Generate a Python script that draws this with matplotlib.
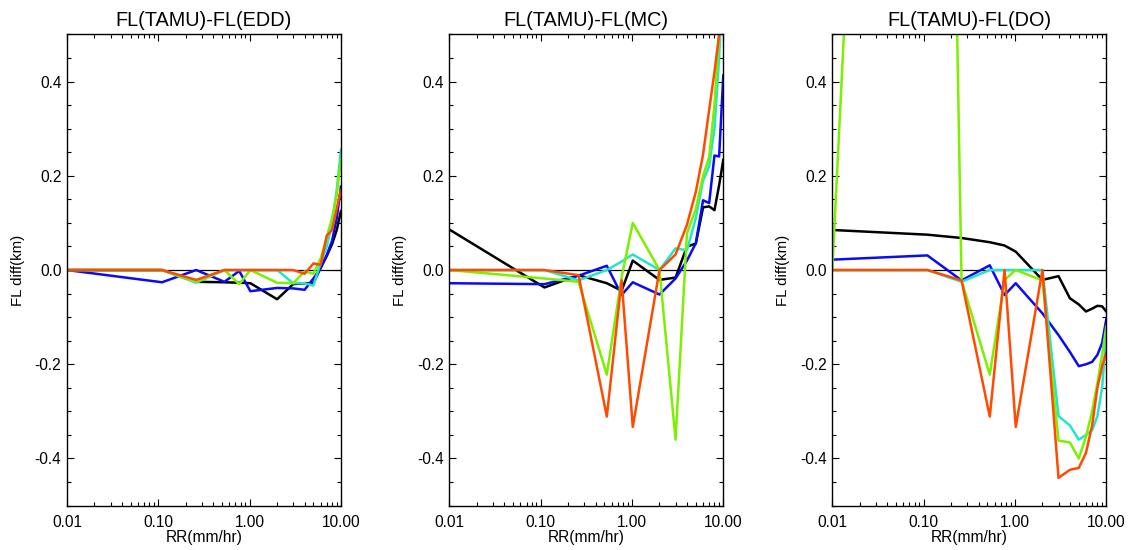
import numpy as np
import matplotlib
matplotlib.use("Agg")
import matplotlib.pyplot as plt
from matplotlib.ticker import MultipleLocator, FixedLocator, FuncFormatter, NullFormatter

plt.rcParams['font.family'] = ['Liberation Sans', 'DejaVu Sans']
plt.rcParams['axes.unicode_minus'] = False

# rain rate bins (mm/hr)
rr = [0.01, 0.11, 0.26, 0.53, 0.77, 1.02, 2.0, 3.0, 4.0, 5.0, 6.0, 7.0, 8.0, 9.0, 10.0]

titles = ['FL(TAMU)-FL(EDD)', 'FL(TAMU)-FL(MC)', 'FL(TAMU)-FL(DO)']

# FL(TAMU)-FL(EDD)
edd_black = [0, 0, -0.025, -0.026, -0.027, -0.028, -0.062, -0.03, -0.028, -0.028, 0.005, 0.03, 0.055, 0.085, 0.125]
edd_blue = [0, -0.026, 0.0, -0.025, -0.002, -0.045, -0.038, -0.039, -0.042, -0.018, 0.004, 0.032, 0.062, 0.11, 0.177]
edd_cyan = [0, 0, -0.027, 0.0, 0.0, 0.0, 0.0, -0.028, -0.028, -0.033, 0.015, 0.05, 0.1, 0.17, 0.255]
edd_green = [0, 0, -0.025, 0.0, -0.03, 0.0, -0.027, -0.028, -0.003, -0.008, 0.025, 0.07, 0.11, 0.16, 0.235]
edd_orange = [0, 0, -0.021, 0.0, 0.0, 0.0, 0.0, 0.0, -0.008, 0.014, 0.011, 0.073, 0.085, 0.13, 0.17]

# FL(TAMU)-FL(MC)
mc_black = [0.086, -0.037, -0.011, -0.028, -0.044, 0.02, -0.021, -0.016, 0.05, 0.056, 0.133, 0.135, 0.127, 0.18, 0.234]
mc_blue = [-0.028, -0.03, -0.012, 0.009, -0.053, -0.026, -0.052, -0.018, 0.02, 0.057, 0.148, 0.142, 0.243, 0.241, 0.413]
mc_cyan = [0, 0, -0.022, 0.0, 0.018, 0.033, 0.0, 0.046, 0.042, 0.11, 0.19, 0.22, 0.3, 0.45, 0.65]
mc_green = [0, -0.018, -0.025, -0.222, -0.015, 0.1, 0.0, -0.36, 0.078, 0.13, 0.2, 0.24, 0.35, 0.5, 0.7]
mc_orange = [0, 0, -0.011, -0.311, -0.022, -0.333, 0.0, 0.033, 0.096, 0.166, 0.245, 0.34, 0.42, 0.5, 0.75]

# FL(TAMU)-FL(DO)
do_black = [0.085, 0.075, 0.068, 0.059, 0.052, 0.039, -0.021, -0.013, -0.06, -0.073, -0.088, -0.082, -0.076, -0.077, -0.088]
do_blue = [0.022, 0.031, -0.022, 0.01, -0.053, -0.028, -0.092, -0.138, -0.174, -0.204, -0.2, -0.195, -0.18, -0.155, -0.105]
do_cyan = [0, 0, -0.025, 0, 0, 0, 0, -0.31, -0.33, -0.36, -0.35, -0.34, -0.31, -0.25, -0.14]
do_green = [0, 4.1, -0.022, -0.222, -0.021, 0.0, -0.022, -0.362, -0.366, -0.4, -0.354, -0.3, -0.24, -0.18, -0.12]
do_orange = [0, 0, -0.022, -0.311, 0.0, -0.333, 0.0, -0.441, -0.424, -0.42, -0.388, -0.33, -0.25, -0.205, -0.175]

panels = [
    [edd_black, edd_blue, edd_cyan, edd_green, edd_orange],
    [mc_black, mc_blue, mc_cyan, mc_green, mc_orange],
    [do_black, do_blue, do_cyan, do_green, do_orange],
]
colors = ['#000000', '#0a0af5', '#22e6cc', '#7cf000', '#ff4a00']

fig = plt.figure(figsize=(11.33, 5.5), dpi=100)
lefts = [0.0591, 0.3966, 0.7346]

for i in range(3):
    ax = fig.add_axes([lefts[i], 0.0807, 0.2418, 0.8567])
    ax.axhline(0, color='k', lw=0.9, zorder=1)
    for series, c in zip(panels[i], colors):
        ax.plot(rr, series, color=c, lw=1.8, zorder=2)

    ax.set_xscale('log')
    ax.set_xlim(0.01, 10)
    ax.set_ylim(-0.5, 0.5)

    ax.xaxis.set_major_locator(FixedLocator([0.01, 0.1, 1, 10]))
    ax.xaxis.set_major_formatter(FuncFormatter(lambda v, p: '%.2f' % v))
    minors = [m * d for d in [0.01, 0.1, 1] for m in range(2, 10)]
    ax.xaxis.set_minor_locator(FixedLocator(minors))
    ax.xaxis.set_minor_formatter(NullFormatter())

    ax.yaxis.set_major_locator(MultipleLocator(0.2))
    ax.yaxis.set_minor_locator(MultipleLocator(0.05))
    ax.yaxis.set_major_formatter(FuncFormatter(lambda v, p: '%.1f' % v))

    ax.tick_params(which='both', direction='in', top=True, right=True, width=0.8)
    ax.tick_params(which='major', length=5, labelsize=11.2)
    ax.tick_params(axis='x', which='major', pad=6.5)
    ax.tick_params(axis='y', which='major', pad=4)
    ax.tick_params(which='minor', length=3)
    for s in ax.spines.values():
        s.set_linewidth(1.0)

    ax.set_title(titles[i], fontsize=14.3, pad=6)
    ax.set_xlabel('RR(mm/hr)', fontsize=11.2, labelpad=0)
    ax.set_ylabel('FL diff(km)', fontsize=10.8, labelpad=7)

fig.savefig('out.png', dpi=100)
